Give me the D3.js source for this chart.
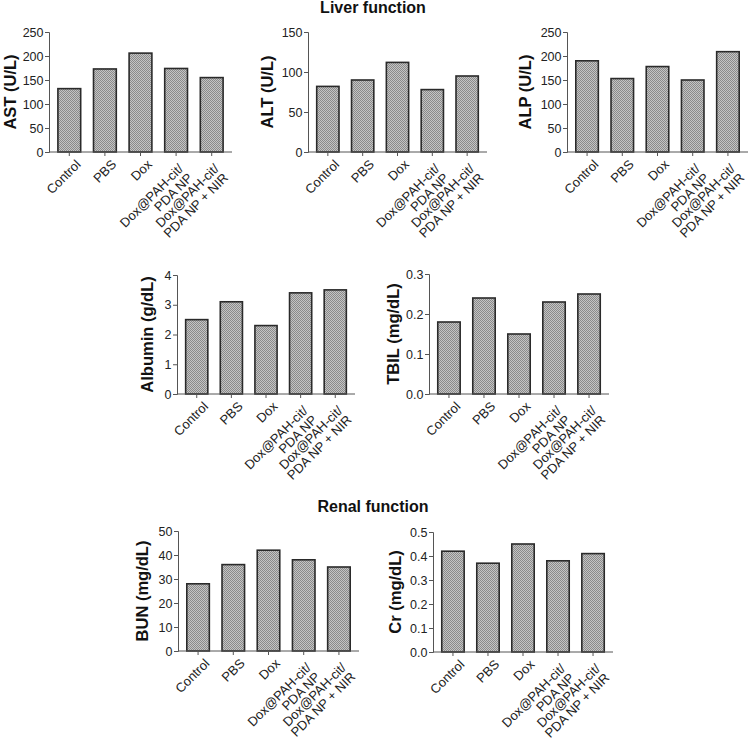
<!DOCTYPE html>
<html>
<head>
<meta charset="utf-8">
<script src="https://cdn.jsdelivr.net/npm/d3@7"></script>
<style>
  html, body { margin: 0; padding: 0; background: #fff; }
  svg { display: block; font-family: "Liberation Sans", Arial, sans-serif; }
</style>
</head>
<body>
<svg id="chart" width="749" height="741"></svg>
<script>
// ---------- data ----------
const categories = ["Control", "PBS", "Dox", "Dox@PAH-cit/\nPDA NP", "Dox@PAH-cit/\nPDA NP + NIR"];

const astValues     = [132, 173, 206, 174, 155];
const altValues     = [82, 90, 112, 78, 95];
const alpValues     = [190, 153, 178, 150, 209];
const albuminValues = [2.5, 3.1, 2.3, 3.4, 3.5];
const tbilValues    = [0.18, 0.24, 0.15, 0.23, 0.25];
const bunValues     = [28, 36, 42, 38, 35];
const crValues      = [0.42, 0.37, 0.45, 0.38, 0.41];

const astTicks     = [0, 50, 100, 150, 200, 250];
const altTicks     = [0, 50, 100, 150];
const alpTicks     = [0, 50, 100, 150, 200, 250];
const albuminTicks = [0, 1, 2, 3, 4];
const tbilTicks    = [0, 0.1, 0.2, 0.3];
const bunTicks     = [0, 10, 20, 30, 40, 50];
const crTicks      = [0, 0.1, 0.2, 0.3, 0.4, 0.5];

const sectionTitles = ["Liver function", "Renal function"];

// ---------- layout ----------
const panels = [
  { label: "AST (U/L)",       values: astValues,     ticks: astTicks,     fmt: d3.format("d"),   x0: 49,  x1: 232, y0: 32,  y1: 152, tx: 10 },
  { label: "ALT (U/L)",       values: altValues,     ticks: altTicks,     fmt: d3.format("d"),   x0: 308, x1: 487, y0: 32,  y1: 152, tx: 267 },
  { label: "ALP (U/L)",       values: alpValues,     ticks: alpTicks,     fmt: d3.format("d"),   x0: 567, x1: 748, y0: 32,  y1: 152, tx: 525 },
  { label: "Albumin (g/dL)",  values: albuminValues, ticks: albuminTicks, fmt: d3.format("d"),   x0: 177, x1: 355, y0: 275, y1: 394, tx: 147 },
  { label: "TBIL (mg/dL)",    values: tbilValues,    ticks: tbilTicks,    fmt: d3.format(".1f"), x0: 429, x1: 609, y0: 274, y1: 394, tx: 393 },
  { label: "BUN (mg/dL)",     values: bunValues,     ticks: bunTicks,     fmt: d3.format("d"),   x0: 178, x1: 359, y0: 531, y1: 651, tx: 142 },
  { label: "Cr (mg/dL)",      values: crValues,      ticks: crTicks,      fmt: d3.format(".1f"), x0: 433, x1: 613, y0: 532, y1: 652, tx: 395 }
];

const svg = d3.select("#chart");

// stippled fill pattern
const defs = svg.append("defs");
const pat = defs.append("pattern")
  .attr("id", "stipple").attr("patternUnits", "userSpaceOnUse")
  .attr("width", 2).attr("height", 2);
pat.append("rect").attr("width", 2).attr("height", 2).attr("fill", "#c4c4c4");
pat.append("rect").attr("x", 0).attr("y", 0).attr("width", 1).attr("height", 1).attr("fill", "#8a8a8a");
pat.append("rect").attr("x", 1).attr("y", 1).attr("width", 1).attr("height", 1).attr("fill", "#8a8a8a");

// section titles
svg.append("text").attr("x", 373).attr("y", 13).attr("text-anchor", "middle")
  .attr("font-weight", "bold").attr("font-size", 16).attr("fill", "#111").text(sectionTitles[0]);
svg.append("text").attr("x", 373).attr("y", 512).attr("text-anchor", "middle")
  .attr("font-weight", "bold").attr("font-size", 16).attr("fill", "#111").text(sectionTitles[1]);

const axisColor = "#555";

panels.forEach(p => {
  const g = svg.append("g");
  const x = d3.scaleBand().domain(categories).range([p.x0, p.x1])
    .paddingInner(0.36).paddingOuter(0.25);
  const y = d3.scaleLinear().domain([0, d3.max(p.ticks)]).range([p.y1, p.y0]);

  // bars
  g.selectAll("rect.bar").data(p.values).enter().append("rect")
    .attr("class", "bar")
    .attr("x", (d, i) => x(categories[i]))
    .attr("width", x.bandwidth())
    .attr("y", d => y(d))
    .attr("height", d => y(0) - y(d))
    .attr("fill", "url(#stipple)")
    .attr("stroke", "#2a2a2a")
    .attr("stroke-width", 1.6);

  // y axis
  const ya = g.append("g").attr("transform", `translate(${p.x0},0)`)
    .call(d3.axisLeft(y).tickValues(p.ticks).tickFormat(p.fmt).tickSize(4).tickPadding(1.5));
  ya.select(".domain").attr("stroke", axisColor);
  ya.selectAll(".tick line").attr("stroke", axisColor);
  ya.selectAll(".tick text").attr("font-size", 12.5).attr("fill", "#222")
    .attr("font-family", "Liberation Sans, Arial, sans-serif");

  // x axis
  const xa = g.append("g").attr("transform", `translate(0,${p.y1})`)
    .call(d3.axisBottom(x).tickSize(4).tickFormat(""));
  xa.select(".domain").attr("stroke", axisColor).attr("d", `M${p.x0},0H${p.x1}`);
  xa.selectAll(".tick line").attr("stroke", axisColor);

  // rotated category labels
  categories.forEach(c => {
    const cx = x(c) + x.bandwidth() / 2;
    const lines = c.split("\n");
    const t = g.append("text")
      .attr("transform", `translate(${cx + 9},${p.y1 + 10}) rotate(-45)`)
      .attr("text-anchor", "end")
      .attr("font-size", 13).attr("fill", "#222");
    lines.forEach((line, k) => {
      t.append("tspan").attr("x", lines.length > 1 ? -6 : 0)
        .attr("dy", k === 0 ? "0.35em" : "1.0em").text(line);
    });
  });

  // y title
  g.append("text")
    .attr("transform", `translate(${p.tx},${(p.y0 + p.y1) / 2}) rotate(-90)`)
    .attr("text-anchor", "middle").attr("dy", "0.35em")
    .attr("font-weight", "bold").attr("font-size", 16.5).attr("fill", "#111")
    .text(p.label);
});
</script>
</body>
</html>
